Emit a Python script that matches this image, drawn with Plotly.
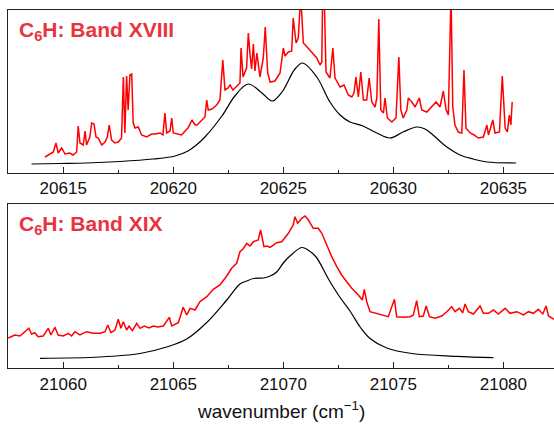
import plotly.graph_objects as go
from plotly.subplots import make_subplots

# ---- Band XVIII (top panel) ----
top_obs_x = [20614.17, 20614.40, 20614.55, 20614.67, 20614.77, 20614.93, 20615.08, 20615.30, 20615.45, 20615.61,
             20615.68, 20615.76, 20615.91, 20615.99, 20616.06, 20616.21, 20616.29, 20616.40, 20616.49, 20616.59,
             20616.75, 20616.90, 20617.00, 20617.09, 20617.20, 20617.35, 20617.50, 20617.65, 20617.73, 20617.80,
             20617.88, 20617.95, 20618.03, 20618.11, 20618.18, 20618.26, 20618.41, 20618.56, 20618.79, 20619.02,
             20619.17, 20619.40, 20619.53, 20619.62, 20619.70, 20619.85, 20619.93, 20620.00, 20620.21, 20620.38,
             20620.58, 20620.67, 20620.85, 20620.99, 20621.08, 20621.30, 20621.44, 20621.52, 20621.59, 20621.76,
             20621.97, 20622.12, 20622.25, 20622.35, 20622.49, 20622.58, 20622.71, 20622.85, 20623.03, 20623.08,
             20623.17, 20623.33, 20623.41, 20623.49, 20623.56, 20623.64, 20623.71, 20623.80, 20623.94, 20624.09,
             20624.18, 20624.29, 20624.40, 20624.62, 20624.85, 20624.93, 20625.00, 20625.08, 20625.23, 20625.38,
             20625.45, 20625.58, 20625.68, 20625.79, 20625.91, 20626.08, 20626.21, 20626.40, 20626.52, 20626.67,
             20626.75, 20626.79, 20626.85, 20626.94, 20627.12, 20627.25, 20627.35, 20627.58, 20627.76, 20627.95,
             20628.11, 20628.21, 20628.30, 20628.41, 20628.52, 20628.64, 20628.79, 20628.90, 20629.02, 20629.17,
             20629.25, 20629.34, 20629.43, 20629.55, 20629.62, 20629.73, 20629.93, 20630.12, 20630.25, 20630.34,
             20630.45, 20630.61, 20630.68, 20630.84, 20630.99, 20631.18, 20631.29, 20631.52, 20631.75, 20631.94,
             20632.12, 20632.27, 20632.40, 20632.50, 20632.62, 20632.70, 20632.80, 20632.95, 20633.11, 20633.21,
             20633.30, 20633.49, 20633.67, 20633.86, 20634.09, 20634.25, 20634.32, 20634.52, 20634.62, 20634.82,
             20634.95, 20635.08, 20635.18, 20635.27, 20635.34, 20635.40]
top_obs_y = [16, 19, 21, 30, 20, 25, 19, 20, 18, 21,
             47, 30, 28, 42, 28, 36, 50, 49, 36, 35,
             28, 31, 36, 48, 33, 30, 31, 35, 96, 40,
             97, 63, 98, 99, 50, 45, 46, 38, 36, 39,
             39, 40, 38, 60, 40, 42, 55, 40, 39, 38,
             43, 45, 53, 48, 48, 53, 56, 73, 63, 64,
             68, 73, 113, 83, 85, 88, 83, 86, 90, 125,
             96, 105, 140, 118, 104, 129, 102, 120, 96, 115,
             146, 100, 91, 92, 100, 113, 125, 117, 121, 122,
             155, 130, 135, 178, 130, 126, 123, 118, 115, 108,
             111, 185, 185, 101, 95, 125, 95, 86, 88, 78,
             76, 80, 96, 76, 101, 73, 73, 95, 71, 66,
             75, 154, 63, 60, 75, 55, 51, 55, 116, 63,
             55, 63, 75, 71, 66, 75, 63, 61, 66, 71,
             66, 82, 63, 58, 180, 66, 48, 41, 40, 103,
             45, 40, 38, 35, 36, 48, 38, 53, 40, 41,
             97, 45, 41, 58, 48, 71]

top_fit_x = [20613.56, 20614.85, 20616.06, 20617.58, 20619.08, 20620.08, 20620.67, 20621.05, 20621.44, 20622.21,
             20622.80, 20623.40, 20624.03, 20624.49, 20624.94, 20625.53, 20625.88, 20626.52, 20627.12, 20627.58,
             20628.03, 20628.62, 20629.25, 20629.85, 20630.44, 20631.06, 20631.44, 20631.80, 20632.43, 20633.03,
             20633.62, 20634.25, 20635.58]
top_fit_y = [9, 9.5, 10, 11.5, 14, 17, 22, 28, 36, 57,
             77, 89, 80, 72, 81, 104, 110, 96, 71, 58,
             51, 47, 40, 35, 41, 46, 44, 38, 26, 18,
             14, 11, 10]

# ---- Band XIX (bottom panel) ----
bot_obs_x = [21057.50, 21057.80, 21058.03, 21058.26, 21058.44, 21058.56, 21058.71, 21058.86, 21059.09, 21059.32,
             21059.44, 21059.62, 21059.77, 21060.00, 21060.23, 21060.38, 21060.53, 21060.76, 21061.06, 21061.36,
             21061.67, 21061.90, 21062.02, 21062.17, 21062.35, 21062.50, 21062.62, 21062.73, 21062.88, 21062.99,
             21063.14, 21063.34, 21063.49, 21063.68, 21063.90, 21064.09, 21064.30, 21064.55, 21064.82, 21064.93,
             21065.23, 21065.45, 21065.61, 21065.76, 21065.99, 21066.21, 21066.52, 21066.82, 21067.12, 21067.43,
             21067.65, 21067.88, 21068.03, 21068.17, 21068.34, 21068.49, 21068.64, 21068.86, 21068.97, 21069.12,
             21069.26, 21069.40, 21069.70, 21069.93, 21070.23, 21070.45, 21070.53, 21070.65, 21070.84, 21070.99,
             21071.14, 21071.36, 21071.59, 21071.75, 21071.97, 21072.20, 21072.43, 21072.65, 21072.88, 21073.11,
             21073.41, 21073.59, 21073.68, 21073.79, 21073.94, 21074.17, 21074.47, 21074.77, 21075.05, 21075.15,
             21075.45, 21075.76, 21075.91, 21076.06, 21076.18, 21076.36, 21076.49, 21076.64, 21076.90, 21077.20,
             21077.43, 21077.65, 21077.80, 21078.00, 21078.15, 21078.26, 21078.41, 21078.64, 21078.94, 21079.09,
             21079.32, 21079.55, 21079.77, 21080.08, 21080.30, 21080.61, 21080.91, 21081.14, 21081.36, 21081.59,
             21081.79, 21081.94, 21082.05, 21082.30]
bot_obs_y = [30, 33, 32, 36, 39.7, 34, 35.3, 31.3, 32, 39.7,
             33, 40.7, 33, 32, 34.7, 32, 36.3, 33, 36.3, 34.7,
             34.7, 36.3, 43, 35.3, 38, 48.7, 39.7, 46.3, 38, 42,
             37.3, 44.7, 39.7, 42, 40, 42, 41, 42, 50.7, 42,
             45.3, 60.7, 53, 59.7, 58, 66.3, 71.3, 78.7, 83, 92,
             99.7, 104.7, 116.3, 119, 124.7, 122, 126.3, 128, 138, 121.3,
             122, 120.7, 125.3, 126.3, 134.7, 143, 151.3, 144.7, 149.7, 152,
             148, 139.7, 139.7, 134.7, 123, 111.3, 101.3, 93, 86.3, 79.7,
             73, 68, 78.7, 66.3, 56.3, 54.7, 53, 51.3, 68.7, 51.3,
             50.7, 51.3, 53, 67.3, 51.3, 52, 62, 51.3, 49.7, 52,
             56.3, 61.3, 56.3, 59.7, 55.3, 64, 56.3, 54, 62, 54.7,
             54.7, 58, 54, 59.7, 54.7, 56.3, 53, 56.3, 54.7, 58.7,
             54, 62, 52, 48.7]

bot_fit_x = [21058.94, 21061.67, 21063.49, 21064.70, 21065.61, 21066.52, 21067.43, 21068.03, 21068.34, 21068.64,
             21069.09, 21069.40, 21069.70, 21070.00, 21070.30, 21070.84, 21071.12, 21071.49, 21072.05, 21072.58,
             21073.03, 21073.49, 21073.94, 21074.70, 21075.84, 21077.88, 21079.55]
bot_fit_y = [9.7, 11, 14.5, 21, 29, 45.5, 68, 84, 87, 89.5,
             90, 92, 96, 105, 112, 120.5, 118, 111, 89, 70.5,
             57, 41, 29.5, 20, 14.5, 11.7, 10.3]

top_title = "C<sub>6</sub>H: Band XVIII"
bot_title = "C<sub>6</sub>H: Band XIX"
x_title = "wavenumber (cm<sup>\u22121</sup>)"
top_ticks = [20615, 20620, 20625, 20630, 20635]
bot_ticks = [21060, 21065, 21070, 21075, 21080]

FONT = "Liberation Sans, Arial, sans-serif"
RED = "#ff0000"
TITLE_RED = "#e8343f"

fig = make_subplots(rows=2, cols=1, vertical_spacing=0.0866)

fig.add_trace(go.Scatter(x=top_obs_x, y=top_obs_y, mode="lines",
                         line=dict(color=RED, width=1.5), showlegend=False), row=1, col=1)
fig.add_trace(go.Scatter(x=top_fit_x, y=top_fit_y, mode="lines",
                         line=dict(color="black", width=1.2, shape="spline", smoothing=1.0),
                         showlegend=False), row=1, col=1)
fig.add_trace(go.Scatter(x=bot_obs_x, y=bot_obs_y, mode="lines",
                         line=dict(color=RED, width=1.5), showlegend=False), row=2, col=1)
fig.add_trace(go.Scatter(x=bot_fit_x, y=bot_fit_y, mode="lines",
                         line=dict(color="black", width=1.2, shape="spline", smoothing=1.0),
                         showlegend=False), row=2, col=1)

xcommon = dict(showline=True, linecolor="#222222", linewidth=1.2, mirror=True,
               ticks="inside", ticklen=6, tickwidth=1, tickcolor="#222222",
               showgrid=False, zeroline=False, tickformat="d",
               tickfont=dict(family=FONT, size=17, color="#111111"),
               minor=dict(ticks="inside", ticklen=3, tickwidth=1, tickcolor="#222222", dtick=2.5, showgrid=False))
ycommon = dict(showline=True, linecolor="#222222", linewidth=1.2, mirror=False,
               showticklabels=False, ticks="", showgrid=False, zeroline=False)

fig.update_xaxes(range=[20612.49, 20637.30], tickvals=top_ticks,
                 ticktext=[str(t) for t in top_ticks], row=1, col=1, **xcommon)
fig.update_xaxes(range=[21057.49, 21082.30], tickvals=bot_ticks,
                 ticktext=[str(t) for t in bot_ticks], row=2, col=1, **xcommon)
fig.update_yaxes(range=[0, 163], row=1, col=1, **ycommon)
fig.update_yaxes(range=[0, 164], row=2, col=1, **ycommon)

fig.update_layout(
    width=554, height=428,
    margin=dict(l=8, r=0, t=10, b=60),
    paper_bgcolor="white", plot_bgcolor="white",
    xaxis=dict(domain=[0, 1]), xaxis2=dict(domain=[0, 1]),
    yaxis=dict(domain=[0.5447, 1]), yaxis2=dict(domain=[0, 0.4581]),
    annotations=[
        dict(text=top_title, xref="paper", yref="paper", x=0.017, y=0.94,
             xanchor="left", yanchor="middle", showarrow=False,
             font=dict(family=FONT, size=21, color=TITLE_RED, weight="bold")),
        dict(text=bot_title, xref="paper", yref="paper", x=0.017, y=0.40,
             xanchor="left", yanchor="middle", showarrow=False,
             font=dict(family=FONT, size=21, color=TITLE_RED, weight="bold")),
        dict(text=x_title, xref="paper", yref="paper", x=0.50, y=-0.118,
             xanchor="center", yanchor="middle", showarrow=False,
             font=dict(family=FONT, size=19, color="#111111")),
    ],
)

fig.write_html("out.html")
